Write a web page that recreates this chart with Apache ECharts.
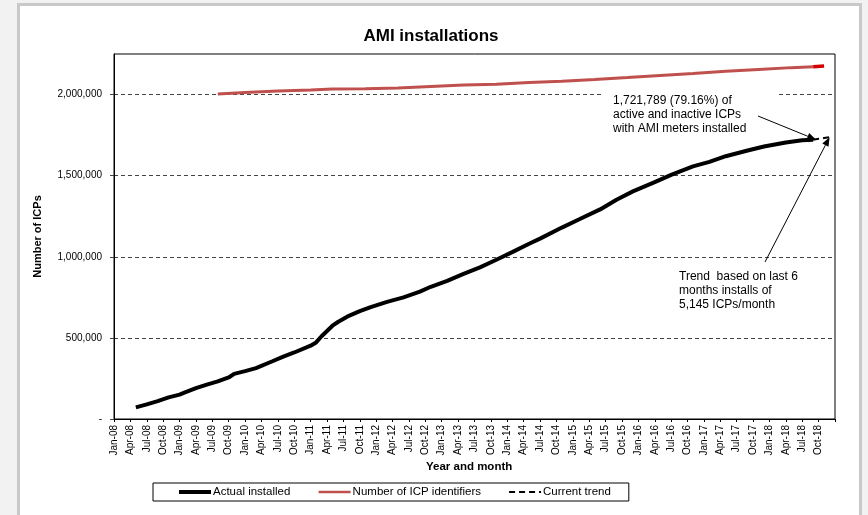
<!DOCTYPE html>
<html>
<head>
<meta charset="utf-8">
<script src="https://cdn.jsdelivr.net/npm/echarts@6/dist/echarts.min.js"></script>
<style>
    html, body { margin: 0; padding: 0; background: #f2f2f2; }
    #frame {
        position: absolute; left: 17px; top: 3px; width: 845px; height: 520px;
        box-sizing: border-box; border: 3px solid #c9c9c9; background: #fff;
    }
    #main { position: absolute; left: 0; top: 0; width: 868px; height: 515px; }
</style>
</head>
<body>
<div id="frame"></div>
<div id="main"></div>
<script>
    var monthNames = ['Jan', 'Feb', 'Mar', 'Apr', 'May', 'Jun', 'Jul', 'Aug', 'Sep', 'Oct', 'Nov', 'Dec'];
    var firstYear = 8, lastYear = 19;

    // one category per month, Jan-08 .. Jan-19
    var months = [];
    for (var y = firstYear; y <= lastYear; y++) {
        for (var m = 0; m < 12; m++) {
            if (y === lastYear && m > 0) break;
            months.push(monthNames[m] + '-' + (y < 10 ? '0' + y : y));
        }
    }

    var yTicks = [0, 500000, 1000000, 1500000, 2000000];

    var actualMonths = ['May-08', 'Jul-08', 'Sep-08', 'Nov-08', 'Jan-09', 'Feb-09', 'Apr-09', 'Jun-09',
        'Aug-09', 'Oct-09', 'Nov-09', 'Jan-10', 'Mar-10', 'Jun-10', 'Aug-10', 'Oct-10', 'Jan-11',
        'Feb-11', 'Mar-11', 'May-11', 'Jun-11', 'Aug-11', 'Oct-11', 'Dec-11', 'Mar-12', 'Jun-12',
        'Sep-12', 'Nov-12', 'Feb-13', 'May-13', 'Aug-13', 'Nov-13', 'Feb-14', 'May-14', 'Jul-14',
        'Nov-14', 'Feb-15', 'Jun-15', 'Sep-15', 'Dec-15', 'Apr-16', 'Jul-16', 'Nov-16', 'Feb-17',
        'May-17', 'Sep-17', 'Dec-17', 'Apr-18', 'Jul-18', 'Sep-18'];
    var actualValues = [72000, 90000, 110000, 133000, 150000, 164000, 190000, 212000,
        232000, 256000, 278000, 295000, 314000, 356000, 385000, 410000, 452000,
        472000, 510000, 575000, 598000, 636000, 665000, 690000, 722000, 750000,
        785000, 815000, 852000, 895000, 935000, 982000, 1030000, 1080000, 1112000,
        1180000, 1228000, 1292000, 1352000, 1403000, 1460000, 1505000, 1557000, 1585000,
        1620000, 1655000, 1680000, 1705000, 1718000, 1721789];

    var icpMonths = ['Aug-09', 'Jan-10', 'Jul-10', 'Jan-11', 'May-11', 'Nov-11', 'May-12', 'Nov-12',
        'May-13', 'Nov-13', 'May-14', 'Nov-14', 'May-15', 'Nov-15', 'May-16', 'Nov-16', 'May-17',
        'Nov-17', 'May-18', 'Sep-18'];
    var icpValues = [2003000, 2012000, 2022000, 2028000, 2034000, 2036000, 2040000, 2050000,
        2059000, 2064000, 2074000, 2082000, 2093000, 2105000, 2118000, 2130000, 2143000,
        2155000, 2166000, 2172000];

    var icpLatestMonths = ['Sep-18', 'Nov-18'];
    var icpLatestValues = [2172000, 2176000];

    var trendMonths = ['Sep-18', 'Oct-18', 'Nov-18', 'Dec-18'];
    var trendValues = [1721789, 1726934, 1732079, 1737224];

    function pairs(xs, vs) {
        return xs.map(function (x, i) { return [x, vs[i]]; });
    }

    var font = 'Liberation Sans, Arial, sans-serif';
    var chart = echarts.init(document.getElementById('main'));

    chart.setOption({
        animation: false,
        textStyle: {fontFamily: font, color: '#000'},
        title: {
            text: 'AMI installations',
            left: 426,
            top: 23,
            textAlign: 'center',
            textStyle: {fontFamily: font, fontSize: 17, fontWeight: 'bold', color: '#000'}
        },
        grid: {
            left: 114, top: 54, right: 33, bottom: 96,
            show: true, borderColor: '#000', borderWidth: 1
        },
        legend: {
            left: 153,
            top: 483,
            data: [
                {name: 'Actual installed', lineStyle: {width: 4}},
                {name: 'Number of ICP identifiers', lineStyle: {width: 2.5}},
                {name: 'Current trend', lineStyle: {width: 2}}
            ],
            itemWidth: 32,
            itemHeight: 14,
            itemGap: 27,
            padding: [3, 18, 3, 24],
            borderColor: '#000',
            borderWidth: 1,
            itemStyle: {opacity: 0},
            textStyle: {fontFamily: font, fontSize: 11.5, color: '#000', padding: [0, 0, 0, -3]}
        },
        xAxis: {
            type: 'category',
            data: months,
            boundaryGap: false,
            axisLine: {lineStyle: {color: '#000', width: 1}},
            axisTick: {interval: 2, length: 3, lineStyle: {color: '#000'}},
            axisLabel: {
                interval: 2,
                rotate: 90,
                fontSize: 10,
                margin: 6,
                color: '#000',
                formatter: function (v, i) { return i === months.length - 1 ? '' : v; }
            },
            splitLine: {show: false}
        },
        yAxis: {
            type: 'value',
            min: 0,
            max: 2250000,
            interval: 500000,
            name: 'Number of ICPs',
            nameLocation: 'middle',
            nameGap: 71,
            nameTextStyle: {fontFamily: font, fontSize: 11, fontWeight: 'bold', color: '#000'},
            axisLine: {show: true, lineStyle: {color: '#000', width: 1}},
            axisTick: {show: true, length: 4, customValues: yTicks, lineStyle: {color: '#444'}},
            axisLabel: {
                fontSize: 10,
                margin: 12,
                color: '#000',
                formatter: function (v) {
                    if (yTicks.indexOf(v) < 0) return '';
                    return v === 0 ? '-' : v.toLocaleString('en-US');
                }
            },
            splitLine: {lineStyle: {color: '#444', width: 1, type: [4, 3]}}
        },
        series: [
            {
                name: 'Actual installed',
                type: 'line',
                data: pairs(actualMonths, actualValues),
                symbol: 'none',
                showSymbol: false,
                lineStyle: {color: '#000', width: 4},
                itemStyle: {color: '#000'},
                z: 4
            },
            {
                name: 'Number of ICP identifiers',
                type: 'line',
                data: pairs(icpMonths, icpValues),
                symbol: 'none',
                showSymbol: false,
                lineStyle: {color: '#c0504d', width: 3},
                itemStyle: {color: '#c0504d'},
                z: 3
            },
            {
                name: 'ICP latest',
                type: 'line',
                data: pairs(icpLatestMonths, icpLatestValues),
                symbol: 'none',
                showSymbol: false,
                lineStyle: {color: '#d40000', width: 3.5},
                z: 3
            },
            {
                name: 'Current trend',
                type: 'line',
                data: pairs(trendMonths, trendValues),
                symbol: 'none',
                showSymbol: false,
                lineStyle: {color: '#000', width: 2, type: [6, 4]},
                itemStyle: {color: '#000'},
                z: 3
            }
        ]
    });

    // annotations and arrows, tips taken from the data points
    function arrow(from, to) {
        var dx = to[0] - from[0], dy = to[1] - from[1];
        var len = Math.sqrt(dx * dx + dy * dy);
        var ux = dx / len, uy = dy / len;
        var bx = to[0] - ux * 9, by = to[1] - uy * 9;
        return [
            {
                type: 'line', z: 20,
                shape: {x1: from[0], y1: from[1], x2: bx, y2: by},
                style: {stroke: '#000', lineWidth: 1}
            },
            {
                type: 'polygon', z: 20,
                shape: {points: [to, [bx - uy * 3.5, by + ux * 3.5], [bx + uy * 3.5, by - ux * 3.5]]},
                style: {fill: '#000'}
            }
        ];
    }

    var lastPt = chart.convertToPixel({xAxisIndex: 0, yAxisIndex: 0}, ['Sep-18', actualValues[actualValues.length - 1]]);
    var trendPt = chart.convertToPixel({xAxisIndex: 0, yAxisIndex: 0}, ['Dec-18', trendValues[trendValues.length - 1]]);

    var graphics = [
        {
            type: 'rect', z: 15,
            shape: {x: 604, y: 88, width: 172, height: 48},
            style: {fill: '#fff'}
        },
        {
            type: 'text', z: 16, left: 613, top: 94,
            style: {
                text: '1,721,789 (79.16%) of\nactive and inactive ICPs\nwith AMI meters installed',
                font: '12px ' + font, fill: '#000', lineHeight: 14
            }
        },
        {
            type: 'text', z: 16, left: 679, top: 270,
            style: {
                text: 'Trend  based on last 6\nmonths installs of\n5,145 ICPs/month',
                font: '12px ' + font, fill: '#000', lineHeight: 14
            }
        },
        {
            type: 'text', z: 16, left: 426, top: 461,
            style: {
                text: 'Year and month', font: 'bold 11.5px ' + font, fill: '#000',
                textAlign: 'center'
            }
        }
    ];
    graphics = graphics.concat(arrow([758, 116], [lastPt[0] + 3, lastPt[1]]));
    graphics = graphics.concat(arrow([765, 262], [trendPt[0], trendPt[1]]));

    chart.setOption({graphic: graphics});
</script>
</body>
</html>
